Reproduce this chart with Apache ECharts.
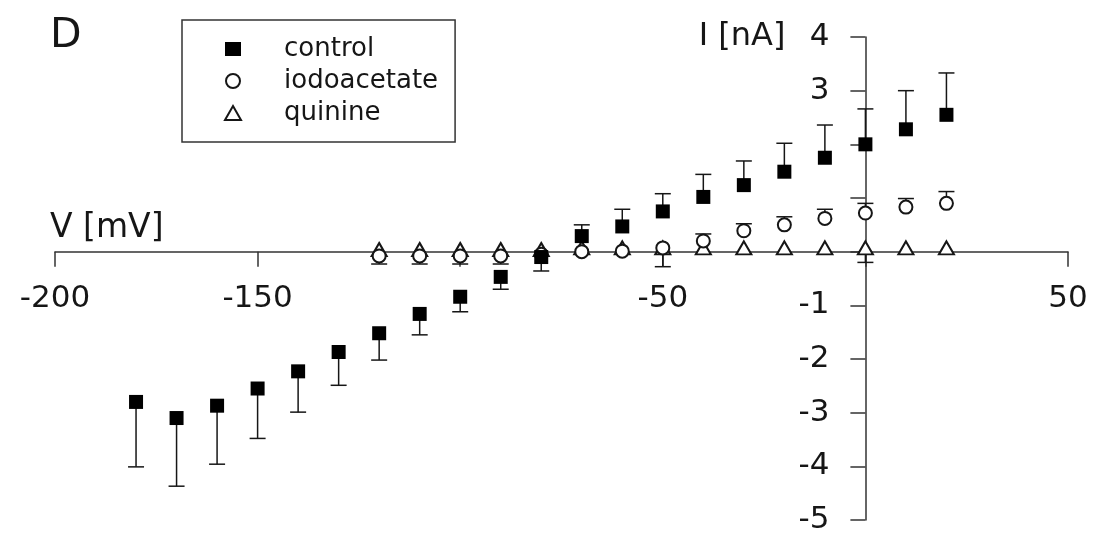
<!DOCTYPE html>
<html>
<head>
    <meta charset="utf-8">
    <title>I-V</title>
    <script src="https://cdn.jsdelivr.net/npm/echarts@6/dist/echarts.min.js"></script>
    <style>
        html, body { margin: 0; padding: 0; background: #fff; }
        #chart { width: 1097px; height: 539px; }
    </style>
</head>
<body>
<div id="chart"></div>
<script type="text/javascript">
    // 电压 (mV)
    var controlV = [-180, -170, -160, -150, -140, -130, -120, -110, -100, -90, -80, -70, -60, -50, -40, -30, -20, -10, 0, 10, 20];
    var drugV = [-120, -110, -100, -90, -80, -70, -60, -50, -40, -30, -20, -10, 0, 10, 20];

    // 电流 (nA), and where each error bar ends
    var controlI = [-2.8, -3.1, -2.87, -2.55, -2.23, -1.87, -1.52, -1.16, -0.84, -0.47, -0.1, 0.29, 0.47, 0.75, 1.02, 1.24, 1.49, 1.75, 2.0, 2.28, 2.55];
    var controlTip = [-4.01, -4.37, -3.96, -3.48, -2.99, -2.49, -2.02, -1.55, -1.12, -0.7, -0.36, 0.5, 0.79, 1.08, 1.44, 1.69, 2.02, 2.36, 2.66, 3.0, 3.33];

    var iodoI = [-0.08, -0.08, -0.08, -0.08, -0.05, 0.0, 0.01, 0.07, 0.2, 0.39, 0.5, 0.62, 0.72, 0.83, 0.9];
    var iodoTip = [-0.23, -0.23, -0.23, -0.23, -0.05, 0.0, 0.01, 0.07, 0.33, 0.52, 0.65, 0.79, 0.9, 0.99, 1.12];

    var quinI = [0.04, 0.04, 0.04, 0.04, 0.04, 0.07, 0.07, 0.07, 0.07, 0.07, 0.07, 0.07, 0.07, 0.07, 0.07];
    var quinTip = [0.04, 0.04, 0.04, 0.04, 0.04, 0.07, 0.07, -0.28, 0.07, 0.07, 0.07, 0.07, -0.2, 0.07, 0.07];

    var xLabels = [-200, -150, -50, 50];
    var yLabels = [-5, -4, -3, -2, -1, 3, 4];

    var font = 'DejaVu Sans';
    var ink = '#161616';

    // 坐标区 (grid) and axis ranges
    var W = 1097, H = 539;
    var gLeft = 55, gRight = 29, gTop = 37, gBottom = 19;
    var xMin = -200, xMax = 50, yMin = -5, yMax = 4;
    // axes cross at zero: shift them in from the grid edges
    var xOffset = -(H - gTop - gBottom) * (0 - yMin) / (yMax - yMin);
    var yOffset = -(W - gLeft - gRight) * (0 - xMin) / (xMax - xMin);

    function pts(xs, ys) {
        return xs.map(function (x, i) { return [x, ys[i]]; });
    }
    function bars(xs, ys, tips) {
        return xs.map(function (x, i) { return [x, ys[i], tips[i]]; });
    }

    // 误差线
    function errorBar(params, api) {
        var p = api.coord([api.value(0), api.value(1)]);
        var q = api.coord([api.value(0), api.value(2)]);
        if (Math.abs(q[1] - p[1]) < 1) return null;
        var st = { stroke: ink, lineWidth: 1.5 };
        return {
            type: 'group',
            children: [
                { type: 'line', shape: { x1: p[0], y1: p[1], x2: q[0], y2: q[1] }, style: st },
                { type: 'line', shape: { x1: q[0] - 8, y1: q[1], x2: q[0] + 8, y2: q[1] }, style: st }
            ]
        };
    }

    var myChart = echarts.init(document.getElementById('chart'));

    myChart.setOption({
        animation: false,
        title: {
            text: 'D',
            left: 45,
            top: 11,
            textStyle: { fontFamily: font, fontSize: 41, fontWeight: 'normal', color: ink }
        },
        legend: {
            data: ['control', 'iodoacetate', 'quinine'],
            orient: 'vertical',
            left: 182,
            top: 20,
            padding: [16, 17, 16, 42],
            itemGap: 6,
            itemWidth: 16,
            itemHeight: 14,
            borderColor: '#333',
            borderWidth: 1.5,
            textStyle: { fontFamily: font, fontSize: 26, lineHeight: 26, color: ink, padding: [0, 0, 0, 38] }
        },
        grid: { left: gLeft, right: gRight, top: gTop, bottom: gBottom, containLabel: false, outerBoundsMode: 'none' },
        xAxis: {
            type: 'value',
            min: xMin,
            max: xMax,
            interval: 50,
            position: 'bottom',
            offset: xOffset,
            name: 'V [mV]',
            nameLocation: 'start',
            nameGap: 5,
            nameTextStyle: { fontFamily: font, fontSize: 33, color: ink, align: 'left', verticalAlign: 'bottom', padding: [0, 0, 7, 0] },
            axisLine: { onZero: false, lineStyle: { color: '#333', width: 1.5 } },
            axisTick: { length: 15, lineStyle: { color: '#333', width: 1.5 } },
            axisLabel: {
                margin: 32,
                fontFamily: font,
                fontSize: 31,
                color: ink,
                formatter: function (v) { return xLabels.indexOf(v) >= 0 ? String(v) : ''; }
            },
            splitLine: { show: false }
        },
        yAxis: {
            type: 'value',
            min: yMin,
            max: yMax,
            interval: 1,
            position: 'left',
            offset: yOffset,
            name: 'I [nA]',
            nameLocation: 'end',
            nameGap: 0,
            nameTextStyle: { fontFamily: font, fontSize: 32, color: ink, align: 'right', verticalAlign: 'middle', padding: [0, 80, 0, 0] },
            axisLine: { onZero: false, lineStyle: { color: '#333', width: 1.5 } },
            axisTick: { length: 15, lineStyle: { color: '#333', width: 1.5 } },
            axisLabel: {
                margin: 36,
                fontFamily: font,
                fontSize: 31,
                color: ink,
                formatter: function (v) { return yLabels.indexOf(v) >= 0 ? String(v) : ''; }
            },
            splitLine: { show: false }
        },
        series: [
            { name: 'controlErr', type: 'custom', renderItem: errorBar, data: bars(controlV, controlI, controlTip), z: 2 },
            { name: 'iodoErr', type: 'custom', renderItem: errorBar, data: bars(drugV, iodoI, iodoTip), z: 2 },
            { name: 'quinErr', type: 'custom', renderItem: errorBar, data: bars(drugV, quinI, quinTip), z: 2 },
            {
                name: 'quinine', type: 'scatter', symbol: 'emptyTriangle', symbolSize: [15, 13],
                itemStyle: { color: ink, borderWidth: 1.5, opacity: 1 },
                data: pts(drugV, quinI), z: 3
            },
            {
                name: 'iodoacetate', type: 'scatter', symbol: 'emptyCircle', symbolSize: 13,
                itemStyle: { color: ink, borderWidth: 1.5, opacity: 1 },
                data: pts(drugV, iodoI), z: 4
            },
            {
                name: 'control', type: 'scatter', symbol: 'rect', symbolSize: 14,
                itemStyle: { color: '#000', opacity: 1 },
                data: pts(controlV, controlI), z: 5
            }
        ]
    });
</script>
</body>
</html>
